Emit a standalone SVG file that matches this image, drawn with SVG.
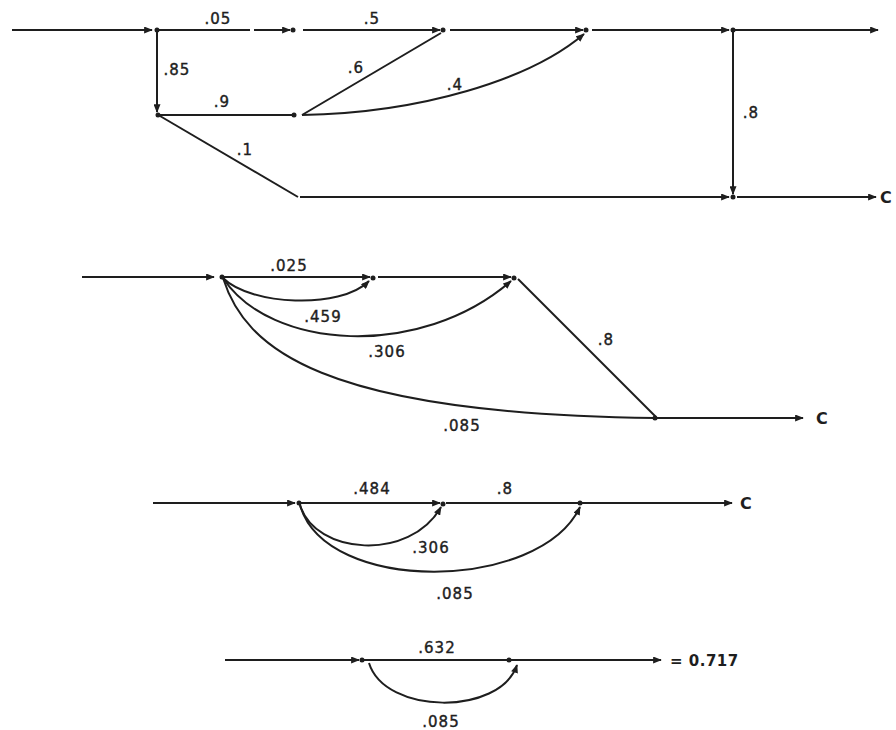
<svg xmlns="http://www.w3.org/2000/svg" width="896" height="730" viewBox="0 0 896 730">
<defs>
<marker id="ah" viewBox="0 0 10 8" refX="9" refY="4" markerWidth="9" markerHeight="7" markerUnits="userSpaceOnUse" orient="auto">
<path d="M0,0 L10,4 L0,8 z" fill="#1e1e1e"/>
</marker>
<style>
.e{fill:none;stroke:#1e1e1e;stroke-width:2}
.a{marker-end:url(#ah)}
.n{fill:#1e1e1e}
.t{font-family:"DejaVu Sans","Liberation Sans",sans-serif;font-size:15px;fill:#1e1e1e;stroke:#1e1e1e;stroke-width:0.4px;letter-spacing:1px;text-anchor:middle}
.c{font-family:"DejaVu Sans","Liberation Sans",sans-serif;font-size:16px;font-weight:bold;fill:#1e1e1e}
</style>
</defs>
<rect width="896" height="730" fill="#fff"/>

<g id="connectors">
<!-- graph 1 -->
<path class="e a" d="M12,30 H152"/>
<path class="e" d="M157,30 H250"/>
<path class="e a" d="M254,30 H290"/>
<path class="e a" d="M303,30 H440"/>
<path class="e a" d="M450,30 H583"/>
<path class="e a" d="M592,30 H729"/>
<path class="e a" d="M733,30 H878"/>
<path class="e a" d="M157,30 V112"/>
<path class="e" d="M160,115 H293"/>
<path class="e" d="M302,115 L441,33"/>
<path class="e a" d="M302,115 C420,113 530,80 584,34"/>
<path class="e" d="M160,116 L298,197"/>
<path class="e a" d="M300,197 H729"/>
<path class="e a" d="M737,197 H876"/>
<path class="e a" d="M733,30 V194"/>
<!-- graph 2 -->
<path class="e a" d="M82,277 H214"/>
<path class="e a" d="M223,277 H370"/>
<path class="e a" d="M378,277 H511"/>
<path class="e a" d="M223,278 C250,305 340,310 369,281"/>
<path class="e a" d="M223,278 C270,350 420,360 511,281"/>
<path class="e" d="M223,278 C245,348 320,414 655,418"/>
<path class="e" d="M518,279 L656,417"/>
<path class="e a" d="M656,418 H803"/>
<!-- graph 3 -->
<path class="e a" d="M153,503 H295"/>
<path class="e a" d="M300,503 H440"/>
<path class="e" d="M446,503 H580"/>
<path class="e a" d="M582,503 H732"/>
<path class="e a" d="M300,505 C315,555 410,562 441,507"/>
<path class="e a" d="M300,505 C325,595 540,592 580,507"/>
<!-- graph 4 -->
<path class="e a" d="M225,660 H359"/>
<path class="e" d="M362,660 H660"/>
<path class="e a" d="M600,660 H661"/>
<path class="e a" d="M369,663 C385,715 500,716 517,665"/>
</g>

<g id="nodes">
<g id="n1"><circle class="n" cx="157" cy="30" r="2.5"/></g>
<g id="n2"><circle class="n" cx="293" cy="30" r="2.5"/></g>
<g id="n3"><circle class="n" cx="443" cy="30" r="2.5"/></g>
<g id="n4"><circle class="n" cx="586" cy="30" r="2.5"/></g>
<g id="n5"><circle class="n" cx="733" cy="30" r="2.5"/></g>
<g id="n6"><circle class="n" cx="158" cy="115" r="2.5"/></g>
<g id="n7"><circle class="n" cx="294" cy="115" r="2.5"/></g>
<g id="n8"><circle class="n" cx="733" cy="197" r="2.5"/></g>
<g id="n9"><circle class="n" cx="222" cy="277" r="2.5"/></g>
<g id="n10"><circle class="n" cx="373" cy="278" r="2.5"/></g>
<g id="n11"><circle class="n" cx="514" cy="278" r="2.5"/></g>
<g id="n12"><circle class="n" cx="655" cy="418" r="2.5"/></g>
<g id="n13"><circle class="n" cx="299" cy="503" r="2.5"/></g>
<g id="n14"><circle class="n" cx="443" cy="504" r="2.5"/></g>
<g id="n15"><circle class="n" cx="580" cy="503" r="2.5"/></g>
<g id="n16"><circle class="n" cx="362" cy="660" r="2.5"/></g>
<g id="n17"><circle class="n" cx="509" cy="660" r="2.5"/></g>
</g>

<g id="labels">
<text class="t" x="218" y="24">.05</text>
<text class="t" x="372" y="24">.5</text>
<text class="t" x="177" y="75">.85</text>
<text class="t" x="222" y="107">.9</text>
<text class="t" x="356" y="73">.6</text>
<text class="t" x="245" y="155">.1</text>
<text class="t" x="455" y="90">.4</text>
<text class="t" x="751" y="118">.8</text>
<text class="c" x="880" y="203">C</text>

<text class="t" x="289" y="271">.025</text>
<text class="t" x="323" y="322">.459</text>
<text class="t" x="387" y="357">.306</text>
<text class="t" x="462" y="431">.085</text>
<text class="t" x="606" y="345">.8</text>
<text class="c" x="816" y="424">C</text>

<text class="t" x="372" y="494">.484</text>
<text class="t" x="505" y="494">.8</text>
<text class="t" x="431" y="553">.306</text>
<text class="t" x="455" y="599">.085</text>
<text class="c" x="740" y="509">C</text>

<text class="t" x="437" y="653">.632</text>
<text class="t" x="441" y="727">.085</text>
<text class="c" x="670" y="666" style="font-size:15px;letter-spacing:0.5px">= 0.717</text>
</g>
</svg>
